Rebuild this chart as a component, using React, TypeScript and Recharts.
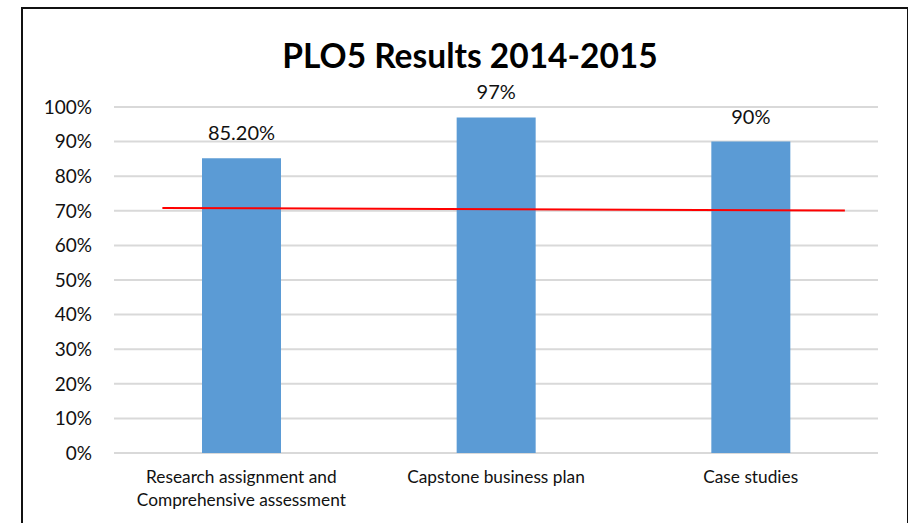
import React from 'react';
import { BarChart, Bar, XAxis, YAxis, CartesianGrid, LabelList, ReferenceLine } from 'recharts';

const categories = ['Research assignment and\nComprehensive assessment', 'Capstone business plan', 'Case studies'];
const results = [0.852, 0.97, 0.9];
const resultLabels = ['85.20%', '97%', '90%'];
const yTicks = [0, 0.1, 0.2, 0.3, 0.4, 0.5, 0.6, 0.7, 0.8, 0.9, 1];

// target line, drawn by hand in the original (slightly sloped); x in category index units
const targetX = [-0.31, 2.37];
const targetY = [0.708, 0.701];

const FONT = 'Lato, "Open Sans", sans-serif';

const data = categories.map((name, i) => ({ idx: i, name, value: results[i], label: resultLabels[i] }));

const CategoryTick: React.FC<any> = ({ x, y, payload }) => {
  const lines = String(categories[Math.round(payload.value)] ?? '').split('\n');
  return (
    <g transform={`translate(${x},${y})`}>
      {lines.map((line, i) => (
        <text key={i} x={0} y={22 + i * 23} textAnchor="middle" fill="#111" fontSize={17.3} fontFamily={FONT}>
          {line}
        </text>
      ))}
    </g>
  );
};

const App: React.FC = () => {
  return (
    <div style={{ position: 'absolute', left: 0, top: 0, width: 908, height: 523, background: '#fff', overflow: 'hidden' }}>
      <div
        style={{
          position: 'absolute', left: 21, top: 7, width: 884, height: 560,
          borderLeft: '2px solid #111', borderTop: '2px solid #111', borderRight: '1px solid #111',
        }}
      />
      <div
        style={{
          position: 'absolute', left: 0, width: 940, top: 35, textAlign: 'center',
          fontFamily: FONT, fontWeight: 700, fontSize: 33.5, color: '#000', lineHeight: '40px',
        }}
      >
        PLO5 Results 2014-2015
      </div>
      <div style={{ position: 'absolute', left: 0, top: 0 }}>
        <BarChart width={908} height={523} data={data} margin={{ top: 107, right: 30, left: 14, bottom: 0 }} barSize={79}>
          <CartesianGrid vertical={false} stroke="#d9d9d9" strokeWidth={2} />
          <XAxis
            dataKey="idx"
            type="number"
            domain={[-0.5, 2.5]}
            allowDataOverflow
            ticks={[0, 1, 2]}
            height={70}
            axisLine={false}
            tickLine={false}
            tick={<CategoryTick />}
            interval={0}
          />
          <YAxis
            domain={[0, 1]}
            ticks={yTicks}
            width={100}
            axisLine={false}
            tickLine={false}
            tickMargin={16}
            tickFormatter={(v: number) => `${Math.round(v * 100)}%`}
            tick={{ fill: '#111', fontSize: 19, fontFamily: FONT }}
          />
          <Bar dataKey="value" fill="#5b9bd5" isAnimationActive={false}>
            <LabelList dataKey="label" position="top" offset={18} fill="#111" fontSize={20} fontFamily={FONT} />
          </Bar>
          <ReferenceLine
            segment={[{ x: targetX[0], y: targetY[0] }, { x: targetX[1], y: targetY[1] }]}
            stroke="#ff0000"
            strokeWidth={2}
            ifOverflow="visible"
          />
        </BarChart>
      </div>
    </div>
  );
};

export default App;
